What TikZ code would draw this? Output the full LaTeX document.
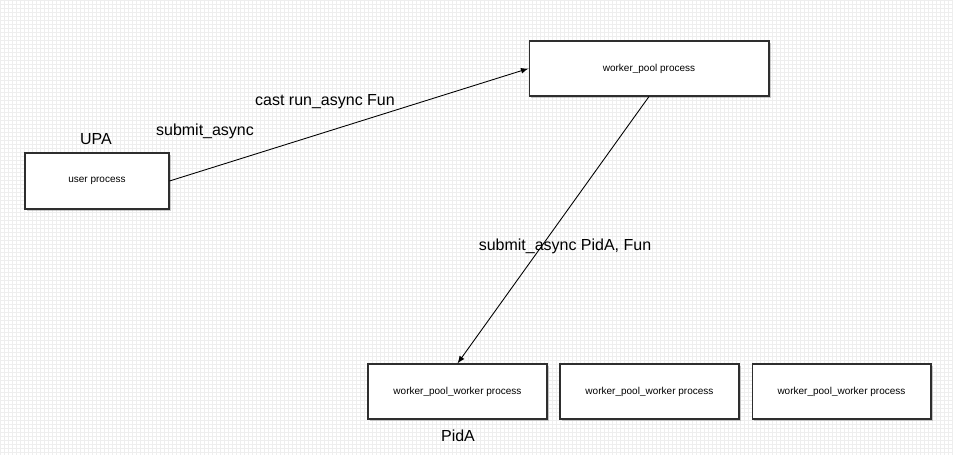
\documentclass[tikz,border=0pt]{standalone}
\usepackage{fontspec}
\setmainfont{Liberation Sans}
\usepackage{tikz}
\usetikzlibrary{shadows}

\definecolor{gridgray}{HTML}{EEEEEE}
\definecolor{edgegray}{HTML}{2E2E2E}

\tikzset{
	proc/.style={draw=edgegray, fill=white, line width=0.6pt, inner sep=0pt,
		font=\fontsize{5.7}{7}\selectfont,
		drop shadow={shadow xshift=0.9pt, shadow yshift=-0.9pt, opacity=0.4}},
	lbl/.style={font=\fontsize{9.1}{11}\selectfont, inner sep=0pt}
}

\begin{document}
\begin{tikzpicture}[x=0.02cm, y=-0.02cm]
		\useasboundingbox (0,0) rectangle (953,455);
		% background
		\fill[white] (0,0) rectangle (953,455);
		\draw[gridgray, line width=0.2pt, step=0.08cm] (0,0) grid (953,455);
		% user process
		\node[proc, minimum width=2.88cm, minimum height=1.12cm] (upa) at (97,181) {user process};
		\node[lbl] at (96,139) {UPA};
		% worker_pool
		\node[proc, minimum width=4.8cm, minimum height=1.1cm] (pool) at (649,68.5) {worker\_pool process};
		% workers
		\node[proc, minimum width=3.58cm, minimum height=1.1cm] (wa) at (457.5,391.5) {worker\_pool\_worker process};
		\node[proc, minimum width=3.58cm, minimum height=1.1cm] (wb) at (649.5,391.5) {worker\_pool\_worker process};
		\node[proc, minimum width=3.58cm, minimum height=1.1cm] (wc) at (841.5,391.5) {worker\_pool\_worker process};
		\node[lbl] at (458,436) {PidA};
		% messages
		\draw[-latex, line width=0.5pt] (upa.east) -- (pool.west);
		\node[lbl] at (205,131) {submit\_async};
		\node[lbl] at (325,102) {cast run\_async Fun};
		\draw[-latex, line width=0.5pt] (pool.south) -- (wa.north);
		\node[lbl] at (565,246) {submit\_async PidA, Fun};
	\end{tikzpicture}
\end{document}
